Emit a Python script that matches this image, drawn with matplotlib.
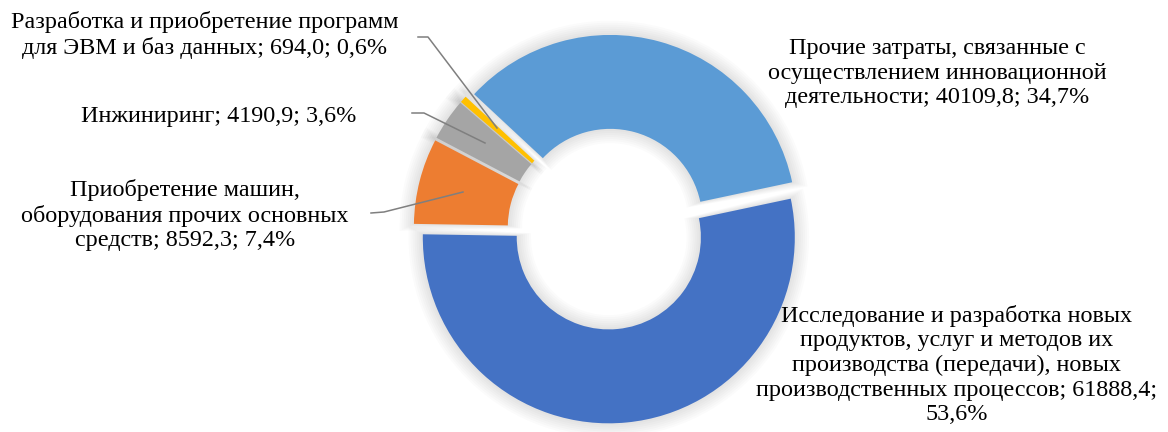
import matplotlib.pyplot as plt
from matplotlib.patches import Wedge
from matplotlib.lines import Line2D

plt.rcParams['font.family'] = ['Liberation Serif', 'DejaVu Serif']

labels = ["Исследование и разработка новых\nпродуктов, услуг и методов их\nпроизводства (передачи), новых\nпроизводственных процессов; 61888,4;\n53,6%",
          "Приобретение машин,\nоборудования прочих основных\nсредств; 8592,3; 7,4%",
          "Инжиниринг; 4190,9; 3,6%",
          "Разработка и приобретение программ\nдля ЭВМ и баз данных; 694,0; 0,6%",
          "Прочие затраты, связанные с\nосуществлением инновационной\nдеятельности; 40109,8; 34,7%"]
values = [61888.4, 8592.3, 4190.9, 694.0, 40109.8]
colors = ["#4472C4", "#ED7D31", "#A5A5A5", "#FFC000", "#5B9BD5"]

W, H = 1168, 432
fig = plt.figure(figsize=(W / 100, H / 100), dpi=100)
ax = fig.add_axes([0, 0, 1, 1])

wedges, _ = ax.pie(values, colors=colors, startangle=12, counterclock=False,
                   explode=[0.045] * len(values), radius=1,
                   wedgeprops=dict(width=0.505, linewidth=0))
for w in wedges:
    w.set_zorder(3)
    # soft shadow around each slice
    for k in range(1, 8):
        d = 0.011 * k
        sh = Wedge(w.center, w.r + d, w.theta1 - 0.3 * k, w.theta2 + 0.3 * k,
                   width=w.width + 2 * d, facecolor='#000000', alpha=0.016,
                   linewidth=0, zorder=1)
        ax.add_patch(sh)

# pixel scale: radius 1 = 186 px, pie centre at (608, 229)
R = 186.0
cx, cy = 608, 229
ax.set_xlim(-cx / R, (W - cx) / R)
ax.set_ylim(-(H - cy) / R, cy / R)
ax.set_aspect('equal')
ax.axis('off')


def px(x, y):
    return x / W, 1 - y / H


fs = 17.4
ls = 1.22
fig.text(*px(957, 365), labels[0], ha='center', va='center', fontsize=fs, linespacing=ls)
fig.text(*px(185, 215), labels[1], ha='center', va='center', fontsize=fs, linespacing=ls)
fig.text(*px(219, 116), labels[2], ha='center', va='center', fontsize=fs, linespacing=ls)
fig.text(*px(205, 35), labels[3], ha='center', va='center', fontsize=fs, linespacing=ls)
fig.text(*px(937, 73), labels[4], ha='center', va='center', fontsize=fs, linespacing=ls)

leaders = [
    [(418, 37), (428, 37), (497, 128)],
    [(412, 113), (424, 113), (485, 143)],
    [(371, 213), (384, 212), (463, 192)],
]
for pts in leaders:
    xs = [px(x, y)[0] for x, y in pts]
    ys = [px(x, y)[1] for x, y in pts]
    fig.add_artist(Line2D(xs, ys, color='#7F7F7F', linewidth=1.1, zorder=5))

fig.savefig('out.png', dpi=100)
